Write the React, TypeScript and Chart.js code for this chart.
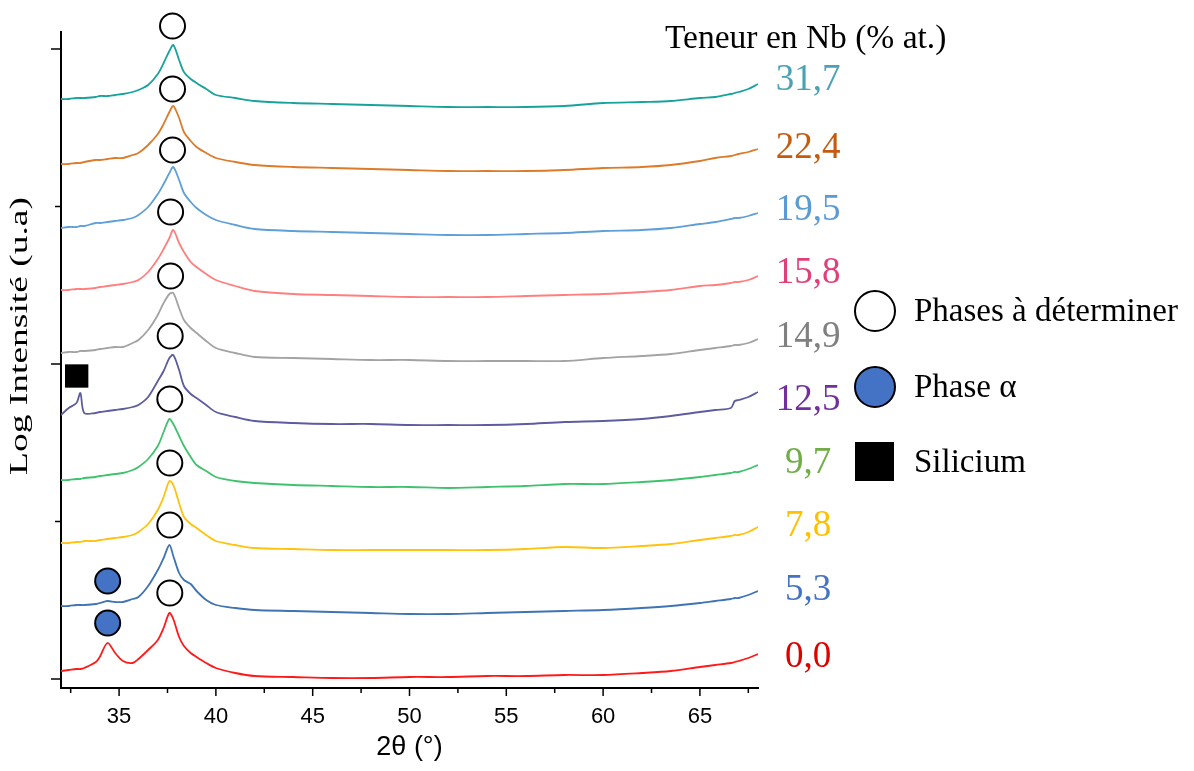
import { useEffect, useRef } from 'react';
import { Chart, registerables } from 'chart.js';

Chart.register(...registerables);

// 2θ (°) sample positions
const twoTheta = [32, 32.4, 32.8, 33.0, 33.2, 33.8, 34.0, 34.4, 34.8, 35.2, 35.7, 36.0, 36.5, 37.0, 37.3, 37.6, 37.8, 38.1, 38.35, 38.7, 39.0, 39.5, 40, 41, 42, 44, 46, 48, 50, 52, 54, 56, 58, 60, 62, 63.5, 65, 65.8, 66.6, 66.8, 67, 67.5, 68];

// Log intensity (a.u., stacked) for each Nb content
const nb00 = [8, 9, 10, 10, 11, 17, 22, 36, 26, 18, 16, 20, 29, 39, 51, 66, 60, 42, 33, 26, 22, 16, 11, 6, 3, 2, 1, 1, 2, 2, 3, 3, 4, 4, 6, 8, 12, 14, 16, 17, 18, 21, 25];
const nb53 = [73, 73, 74, 74, 74, 75, 76, 78, 77, 77, 80, 82, 93, 109, 121, 134, 123, 106, 99, 95, 88, 79, 74, 71, 69, 68, 67, 66, 65, 65, 66, 67, 68, 69, 71, 73, 76, 78, 80, 81, 81, 84, 88];
const nb78 = [136, 136, 137, 137, 138, 138, 139, 140, 141, 142, 144, 147, 155, 169, 182, 198, 194, 176, 162, 155, 151, 144, 138, 134, 131, 130, 129, 129, 129, 129, 129, 130, 132, 131, 133, 135, 139, 141, 143, 144, 144, 147, 152];
const nb97 = [199, 199, 200, 200, 201, 202, 203, 204, 205, 206, 209, 212, 220, 233, 247, 260, 255, 243, 233, 222, 214, 208, 202, 198, 196, 194, 193, 192, 192, 191, 192, 193, 195, 195, 197, 199, 202, 204, 206, 207, 207, 210, 214];
const nb125 = [264, 271, 276, 286, 266, 266, 267, 268, 269, 270, 272, 274, 282, 298, 308, 321, 324, 309, 293, 285, 281, 274, 267, 262, 258, 256, 255, 255, 254, 254, 254, 255, 257, 258, 260, 263, 267, 269, 271, 278, 279, 282, 287];
const nb149 = [326, 327, 327, 328, 328, 329, 330, 331, 332, 332, 336, 339, 349, 364, 376, 385, 386, 371, 359, 351, 346, 338, 331, 326, 322, 321, 320, 319, 319, 318, 318, 318, 318, 321, 323, 325, 329, 331, 333, 334, 334, 336, 340];
const nb158 = [389, 389, 390, 390, 390, 391, 392, 393, 394, 395, 397, 399, 407, 420, 430, 441, 449, 436, 427, 417, 412, 405, 399, 393, 388, 385, 384, 383, 382, 382, 382, 383, 384, 385, 387, 389, 393, 394, 396, 397, 397, 399, 403];
const nb195 = [451, 452, 452, 453, 453, 456, 456, 457, 458, 459, 461, 464, 472, 485, 495, 506, 512, 499, 486, 477, 471, 464, 459, 454, 450, 448, 447, 446, 445, 444, 444, 445, 446, 448, 449, 451, 455, 457, 460, 461, 461, 463, 466];
const nb224 = [515, 515, 516, 516, 517, 519, 519, 520, 521, 521, 524, 526, 534, 545, 555, 567, 573, 561, 547, 538, 532, 526, 521, 517, 514, 512, 511, 510, 509, 508, 508, 508, 509, 511, 512, 514, 518, 521, 523, 524, 525, 527, 530];
const nb317 = [580, 580, 581, 581, 581, 582, 583, 583, 584, 585, 587, 589, 594, 605, 616, 628, 634, 619, 607, 600, 596, 590, 584, 581, 578, 576, 575, 574, 573, 572, 572, 572, 573, 576, 577, 578, 581, 582, 585, 586, 587, 590, 595];

const nbContents = ['0,0', '5,3', '7,8', '9,7', '12,5', '14,9', '15,8', '19,5', '22,4', '31,7'];
const seriesValues = [nb00, nb53, nb78, nb97, nb125, nb149, nb158, nb195, nb224, nb317];
const lineColors = ['#ff1a1a', '#3f73b2', '#ffc20e', '#3fc26d', '#5c5c9e', '#a3a3a3', '#ff7f7f', '#5f9fd8', '#dc7b2a', '#17a39c'];
const labelColors = ['#e00000', '#4472c4', '#ffc000', '#70ad47', '#7030a0', '#808080', '#e0407a', '#5b9bd5', '#c55a11', '#4aa3b5'];

// phase markers
const undeterminedX = [37.62, 37.62, 37.62, 37.62, 37.64, 37.66, 37.66, 37.76, 37.76, 37.76];
const undeterminedY = [86, 154, 216, 280, 343, 403, 467, 529, 590, 653];
const alphaX = [34.41, 34.41];
const alphaY = [56, 98];
const siliconX = [32.81];
const siliconY = [303];

// axis ticks
const xMajorTicks = [35, 40, 45, 50, 55, 60, 65];
const xMinorTicks = [32.5, 37.5, 42.5, 47.5, 52.5, 57.5, 62.5, 67.5];
const yMajorTicks = [0, 315, 630];
const yMinorTicks = [157.5, 472.5];

const legendTitle = 'Teneur en Nb (% at.)';
const legendItems = ['Phases à déterminer', 'Phase α', 'Silicium'];
const yTitle = 'Log Intensité (u.a)';
const xTitle = '2θ (°)';

// text layout (pixels)
const labelCenterX = 808;
const labelCenterY = [657, 590, 526, 463, 400, 337, 273, 210, 148, 80];

const overlay = {
  id: 'overlay',
  afterDraw(chart: any) {
    const ctx = chart.ctx as CanvasRenderingContext2D;
    const xs = chart.scales.x;
    const ys = chart.scales.y;
    const { left, bottom } = chart.chartArea;
    ctx.save();
    ctx.strokeStyle = '#000';
    ctx.lineWidth = 1.5;
    const seg = (x1: number, y1: number, x2: number, y2: number) => {
      ctx.beginPath();
      ctx.moveTo(x1, y1);
      ctx.lineTo(x2, y2);
      ctx.stroke();
    };
    xMajorTicks.forEach((v) => { const p = xs.getPixelForValue(v); seg(p, bottom, p, bottom + 8); });
    xMinorTicks.forEach((v) => { const p = xs.getPixelForValue(v); seg(p, bottom, p, bottom + 5); });
    yMajorTicks.forEach((v) => { const p = ys.getPixelForValue(v); seg(left - 10, p, left, p); });
    yMinorTicks.forEach((v) => { const p = ys.getPixelForValue(v); seg(left - 6, p, left, p); });

    // y title (stretched along its reading direction like the source)
    ctx.save();
    ctx.font = '25px "Liberation Serif"';
    const w = ctx.measureText(yTitle).width;
    ctx.translate(20, 336);
    ctx.rotate(-Math.PI / 2);
    ctx.scale(278 / w, 1);
    ctx.fillStyle = '#000';
    ctx.textAlign = 'center';
    ctx.textBaseline = 'middle';
    ctx.fillText(yTitle, 0, 0);
    ctx.restore();

    // Nb content labels
    ctx.textAlign = 'center';
    ctx.textBaseline = 'middle';
    ctx.font = '37px "Liberation Serif"';
    nbContents.forEach((t, i) => {
      ctx.fillStyle = labelColors[i];
      ctx.fillText(t, labelCenterX, labelCenterY[i]);
    });

    // legend title
    ctx.textAlign = 'left';
    ctx.fillStyle = '#000';
    ctx.font = '33.5px "Liberation Serif"';
    ctx.fillText(legendTitle, 665, 39);

    // legend items
    ctx.lineWidth = 2;
    ctx.beginPath();
    ctx.arc(875, 311, 20, 0, Math.PI * 2);
    ctx.fillStyle = '#fff';
    ctx.fill();
    ctx.stroke();
    ctx.beginPath();
    ctx.arc(875, 387, 20, 0, Math.PI * 2);
    ctx.fillStyle = '#4472c4';
    ctx.fill();
    ctx.stroke();
    ctx.fillStyle = '#000';
    ctx.fillRect(855, 442, 39, 39);
    ctx.font = '33px "Liberation Serif"';
    ctx.fillText(legendItems[0], 914, 312);
    ctx.fillText(legendItems[1], 914, 388);
    ctx.fillText(legendItems[2], 914, 463);
    ctx.restore();
  },
};

export default function App() {
  const ref = useRef<HTMLCanvasElement | null>(null);
  useEffect(() => {
    document.body.style.margin = '0';
    const canvas = ref.current;
    if (!canvas) return;
    const lineSets = seriesValues.map((vals, i) => ({
      type: 'line' as const,
      label: nbContents[i],
      data: twoTheta.map((x, j) => ({ x, y: vals[j] })),
      borderColor: lineColors[i],
      borderWidth: 1.8,
      pointRadius: 0,
      tension: 0.3,
      fill: false,
      order: 2,
    }));
    const markerSets = [
      {
        type: 'scatter' as const,
        label: legendItems[0],
        data: undeterminedX.map((x, i) => ({ x, y: undeterminedY[i] })),
        pointStyle: 'circle',
        pointRadius: 12.5,
        pointBackgroundColor: '#fff',
        pointBorderColor: '#000',
        pointBorderWidth: 2,
        clip: false,
        order: 0,
      },
      {
        type: 'scatter' as const,
        label: legendItems[1],
        data: alphaX.map((x, i) => ({ x, y: alphaY[i] })),
        pointStyle: 'circle',
        pointRadius: 12.5,
        pointBackgroundColor: '#4472c4',
        pointBorderColor: '#000',
        pointBorderWidth: 2,
        clip: false,
        order: 0,
      },
      {
        type: 'scatter' as const,
        label: legendItems[2],
        data: siliconX.map((x, i) => ({ x, y: siliconY[i] })),
        pointStyle: 'rect',
        pointRadius: 16.5,
        pointBackgroundColor: '#000',
        pointBorderColor: '#000',
        pointBorderWidth: 0,
        clip: false,
        order: 0,
      },
    ];
    const chart = new Chart(canvas, {
      type: 'line',
      data: { datasets: [...markerSets, ...lineSets] as any },
      options: {
        animation: false,
        responsive: false,
        devicePixelRatio: 1,
        layout: { padding: { left: 0, top: 32, right: 436, bottom: 0 } },
        plugins: { legend: { display: false }, tooltip: { enabled: false } },
        scales: {
          x: {
            type: 'linear',
            min: 32,
            max: 68,
            afterFit: (s: any) => { s.height = 83; },
            afterBuildTicks: (s: any) => { s.ticks = xMajorTicks.map((v) => ({ value: v })); },
            grid: { display: false, drawTicks: false },
            border: { display: true, color: '#000', width: 2 },
            ticks: {
              color: '#000',
              font: { family: '"Liberation Sans", Arial', size: 22 },
              padding: 16,
              maxRotation: 0,
              callback: (v: any) => String(v),
            },
            title: {
              display: true,
              text: xTitle,
              color: '#000',
              font: { family: '"Liberation Sans", Arial', size: 27 },
              padding: { top: 0, bottom: 7 },
            },
          },
          y: {
            type: 'linear',
            min: -9,
            max: 647,
            afterFit: (s: any) => { s.width = 61; },
            grid: { display: false, drawTicks: false },
            border: { display: true, color: '#000', width: 2 },
            ticks: { display: false },
          },
        },
      } as any,
      plugins: [overlay],
    });
    return () => chart.destroy();
  }, []);
  return <canvas ref={ref} width={1194} height={771} style={{ display: 'block' }} />;
}
